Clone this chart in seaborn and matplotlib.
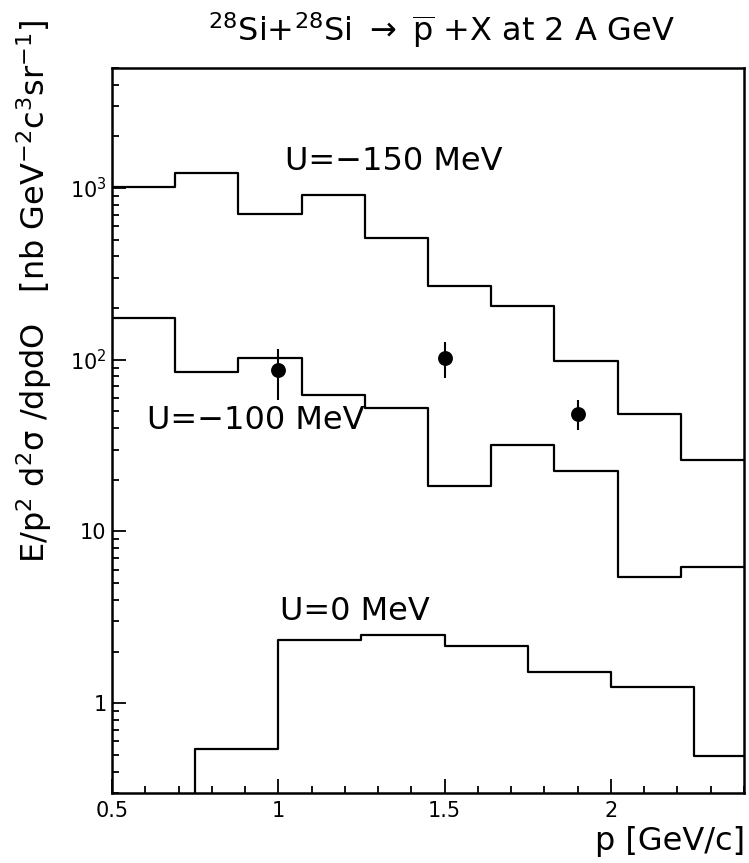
import numpy as np
import matplotlib
matplotlib.use("Agg")
import matplotlib.pyplot as plt
import matplotlib.ticker as mticker
import seaborn as sns

# ---------------- data ----------------
edges_u150 = [0.50, 0.69, 0.88, 1.07, 1.26, 1.45, 1.64, 1.83, 2.02, 2.21, 2.40]
vals_u150 = [1020, 1220, 705, 905, 515, 270, 205, 99, 48, 26]

edges_u100 = [0.50, 0.69, 0.88, 1.07, 1.26, 1.45, 1.64, 1.83, 2.02, 2.21, 2.40]
vals_u100 = [175, 85, 102, 62, 52.5, 18.5, 32, 22.5, 5.4, 6.2]

edges_u0 = [0.75, 1.00, 1.25, 1.50, 1.75, 2.00, 2.25, 2.50]
vals_u0 = [0.54, 2.34, 2.50, 2.15, 1.52, 1.24, 0.49]

data_p = [1.0, 1.5, 1.9]
data_y = [87, 103, 48.5]
data_lo = [58, 78, 39]
data_hi = [116, 127, 58.5]

labels_text = ["U=\u2212150 MeV", "U=\u2212100 MeV", "U=0 MeV"]
label_x = [1.02, 0.605, 1.005]
label_y = [1430, 44.5, 3.4]

ytick_vals = [1, 10, 100, 1000]
ytick_labels = ["1", "10", r"10$^{2}$", r"10$^{3}$"]
xtick_vals = [0.5, 1.0, 1.5, 2.0]
xtick_labels = ["0.5", "1", "1.5", "2"]

XMIN, XMAX = 0.5, 2.4
YMIN, YMAX = 0.3, 5000

# ---------------- style ----------------
sns.set_theme(style="ticks")
plt.rcParams["font.family"] = ["DejaVu Sans"]
plt.rcParams["mathtext.fontset"] = "dejavusans"

fig = plt.figure(figsize=(7.49, 8.63), dpi=100)
ax = fig.add_axes([112 / 749, 1 - 793 / 863, (744 - 112) / 749, (793 - 68) / 863])
ax.set_facecolor("white")
fig.patch.set_facecolor("white")

lw = 1.6


def step_xy(edges, vals):
    x = list(edges)
    y = list(vals) + [vals[-1]]
    return x, y


for e, v in [(edges_u150, vals_u150), (edges_u100, vals_u100)]:
    x, y = step_xy(e, v)
    sns.lineplot(x=x, y=y, drawstyle="steps-post", estimator=None, sort=False,
                 color="black", lw=lw, ax=ax, legend=False)

x0, y0 = step_xy(edges_u0, vals_u0)
x0 = [edges_u0[0]] + x0
y0 = [YMIN * 0.5] + y0
sns.lineplot(x=x0, y=y0, drawstyle="steps-post", estimator=None, sort=False,
             color="black", lw=lw, ax=ax, legend=False)

# data points with error bars
yerr = [np.array(data_y) - np.array(data_lo), np.array(data_hi) - np.array(data_y)]
ax.errorbar(data_p, data_y, yerr=yerr, fmt="none", ecolor="black", elinewidth=1.5, capsize=0)
sns.scatterplot(x=data_p, y=data_y, color="black", s=115, edgecolor="black",
                linewidth=0, ax=ax, legend=False, zorder=5)

ax.set_yscale("log")
ax.set_xlim(XMIN, XMAX)
ax.set_ylim(YMIN, YMAX)

ax.set_yticks(ytick_vals)
ax.set_yticklabels(ytick_labels)
ax.yaxis.set_minor_locator(mticker.LogLocator(base=10, subs=np.arange(2, 10)))
ax.yaxis.set_minor_formatter(mticker.NullFormatter())
ax.set_xticks(xtick_vals)
ax.set_xticklabels(xtick_labels)
ax.xaxis.set_minor_locator(mticker.MultipleLocator(0.1))

ax.tick_params(which="both", direction="in", top=False, right=False, color="black",
               labelcolor="black", width=1.3)
ax.tick_params(which="major", length=10, labelsize=15)
ax.tick_params(axis="y", which="major", pad=4)
ax.tick_params(axis="x", which="major", pad=6)
ax.tick_params(which="minor", length=5)

for sp in ax.spines.values():
    sp.set_visible(True)
    sp.set_color("black")
    sp.set_linewidth(1.8)

ax.set_xlabel("")
ax.set_ylabel("")

for t, xx, yy in zip(labels_text, label_x, label_y):
    ax.text(xx, yy, t, fontsize=23, ha="left", va="center", color="black")

fig.text(441 / 749, 1 - 30 / 863,
         r"$^{28}$Si+$^{28}$Si $\rightarrow$ $\overline{\mathrm{p}}$ +X at 2 A GeV",
         fontsize=23, ha="center", va="center", color="black")
fig.text(745 / 749, 1 - 841 / 863, "p [GeV/c]", fontsize=23, ha="right",
         va="center", color="black")
fig.text(34 / 749, 1 - 20 / 863,
         "E/p$^2$ d$^2$\u03c3 /dpdO   [nb GeV$^{-2}$c$^3$sr$^{-1}$]",
         fontsize=23, rotation=90, ha="center", va="top", color="black")

fig.savefig("out.png", dpi=100, facecolor="white")
